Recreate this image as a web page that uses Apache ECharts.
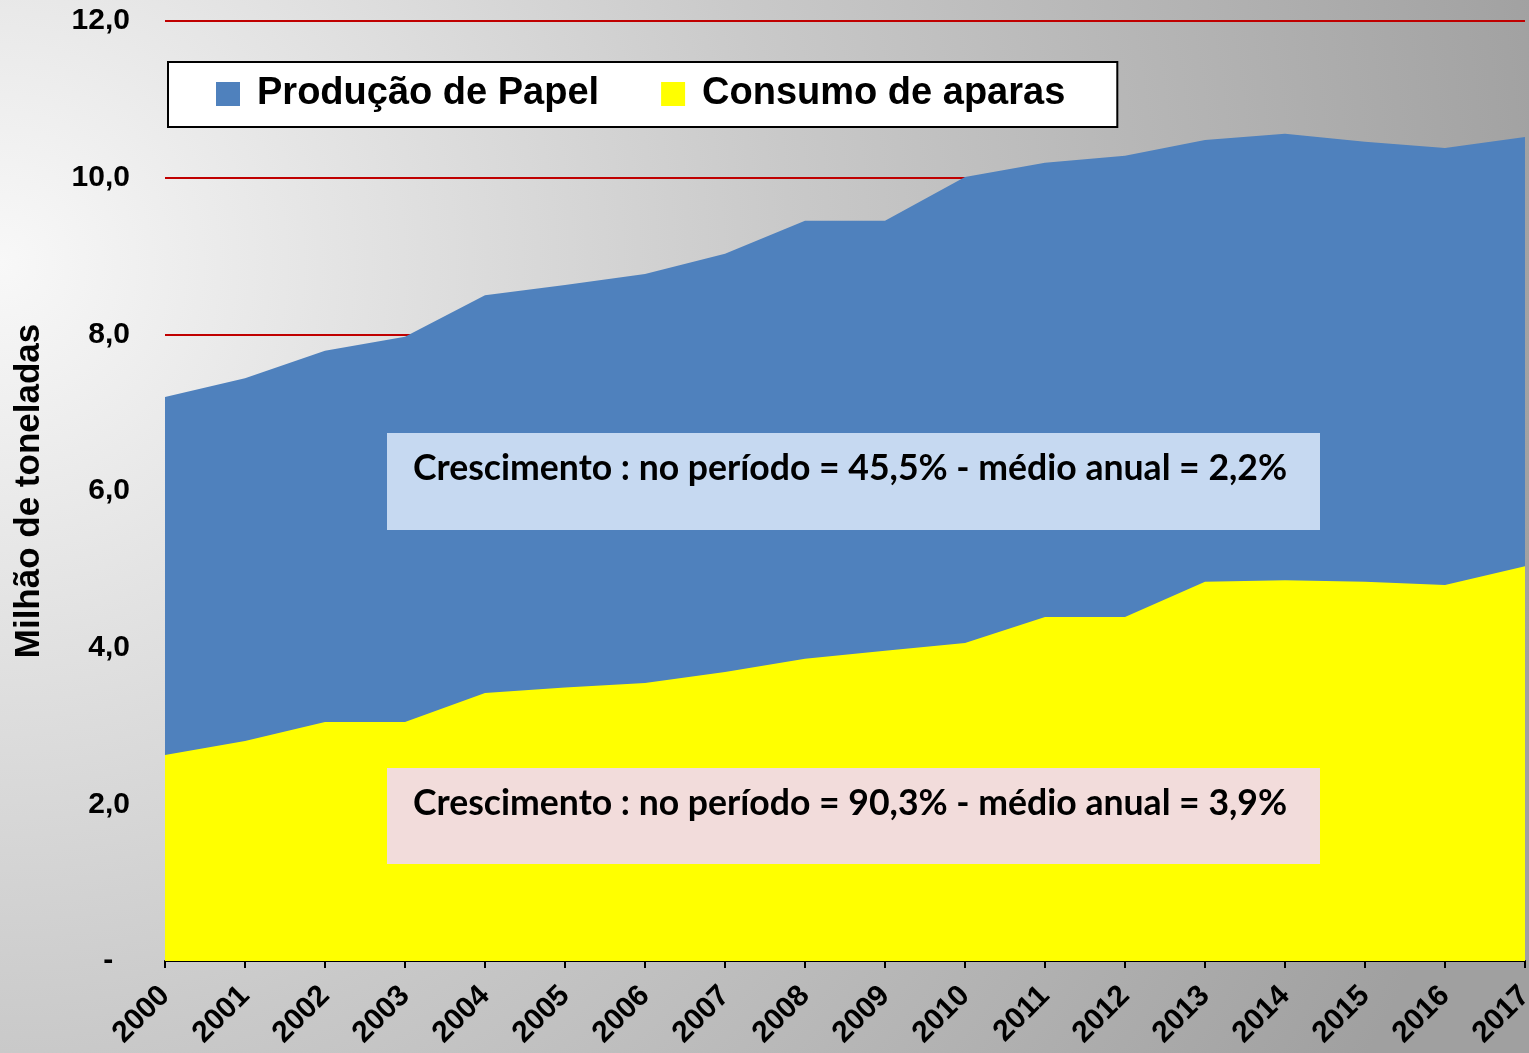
<!DOCTYPE html>
<html>
<head>
<meta charset="utf-8">
<script src="https://cdn.jsdelivr.net/npm/echarts@6/dist/echarts.min.js"></script>
<style>
html, body { margin: 0; padding: 0; }
#main { width: 1529px; height: 1053px; }
</style>
</head>
<body>
<div id="main"></div>
<script>
var anos = ['2000', '2001', '2002', '2003', '2004', '2005', '2006', '2007', '2008',
  '2009', '2010', '2011', '2012', '2013', '2014', '2015', '2016', '2017'];
// milhões de toneladas
var producaoPapel = [7.20, 7.44, 7.79, 7.97, 8.50, 8.63, 8.77, 9.03, 9.45,
  9.45, 10.01, 10.19, 10.28, 10.48, 10.56, 10.46, 10.38, 10.52];
var consumoAparas = [2.63, 2.81, 3.05, 3.05, 3.42, 3.49, 3.55, 3.69, 3.86,
  3.96, 4.06, 4.39, 4.39, 4.84, 4.86, 4.84, 4.80, 5.04];
var textoPapel = 'Crescimento : no período = 45,5% - médio anual = 2,2%';
var textoAparas = 'Crescimento : no período = 90,3% - médio anual = 3,9%';

var chart = echarts.init(document.getElementById('main'));

var option = {
  animation: false,
  backgroundColor: {
    type: 'radial', x: 0, y: 0.25, r: 1.5,
    colorStops: [
      { offset: 0, color: '#f8f8f8' },
      { offset: 0.5, color: '#c9c9c9' },
      { offset: 1, color: '#a0a0a0' }
    ]
  },
  textStyle: { fontFamily: 'Liberation Sans', fontWeight: 'bold' },
  grid: { left: 165, right: 4, top: 21, bottom: 92, outerBoundsMode: 'none' },
  legend: {
    left: 168, top: 62,
    data: ['Produção de Papel', 'Consumo de aparas'],
    backgroundColor: '#ffffff',
    borderColor: '#000000',
    borderWidth: 2,
    padding: [13, 52, 14, 48],
    itemGap: 62,
    itemWidth: 24, itemHeight: 24,
    icon: 'rect',
    textStyle: {
      fontSize: 38, fontWeight: 'bold', color: '#000', fontFamily: 'Liberation Sans',
      padding: [0, 0, 0, 12]
    }
  },
  xAxis: {
    type: 'category',
    data: anos,
    boundaryGap: false,
    axisLine: { lineStyle: { color: '#000', width: 2 } },
    axisTick: { show: true, length: 7, interval: 0, lineStyle: { color: '#000', width: 2 } },
    axisLabel: { rotate: 45, interval: 0, fontSize: 30, fontWeight: 'bold', color: '#000', margin: 30 },
    splitLine: { show: false }
  },
  yAxis: {
    type: 'value',
    min: 0, max: 12, interval: 2,
    name: 'Milhão de toneladas',
    nameLocation: 'middle',
    nameGap: 118,
    nameTextStyle: { fontSize: 35, fontWeight: 'bold', color: '#000' },
    axisLine: { show: false },
    axisTick: { show: false },
    axisLabel: {
      fontSize: 30, fontWeight: 'bold', color: '#000', margin: 35,
      formatter: function (v) {
        return v === 0 ? '-  ' : v.toFixed(1).replace('.', ',');
      }
    },
    splitLine: { show: true, lineStyle: { color: '#c00000', width: 2 } }
  },
  series: [
    {
      name: 'Produção de Papel',
      type: 'line',
      data: producaoPapel,
      symbol: 'none',
      lineStyle: { width: 0 },
      itemStyle: { color: '#4f81bd' },
      areaStyle: { color: '#4f81bd', opacity: 1 },
      z: 2
    },
    {
      name: 'Consumo de aparas',
      type: 'line',
      data: consumoAparas,
      symbol: 'none',
      lineStyle: { width: 0 },
      itemStyle: { color: '#ffff00' },
      areaStyle: { color: '#ffff00', opacity: 1 },
      z: 3
    }
  ],
  graphic: [
    {
      type: 'rect', left: 387, top: 433, z: 10,
      shape: { width: 933, height: 97 },
      style: { fill: '#c6d9f1' }
    },
    {
      type: 'text', left: 413, top: 451, z: 11,
      style: { text: textoPapel, fill: '#000', font: 'bold 35.6px Lato' }
    },
    {
      type: 'rect', left: 387, top: 768, z: 10,
      shape: { width: 933, height: 96 },
      style: { fill: '#f2dcdb' }
    },
    {
      type: 'text', left: 413, top: 786, z: 11,
      style: { text: textoAparas, fill: '#000', font: 'bold 35.6px Lato' }
    }
  ]
};

chart.setOption(option);
window.onresize = function () {
  chart.resize();
};
</script>
</body>
</html>
